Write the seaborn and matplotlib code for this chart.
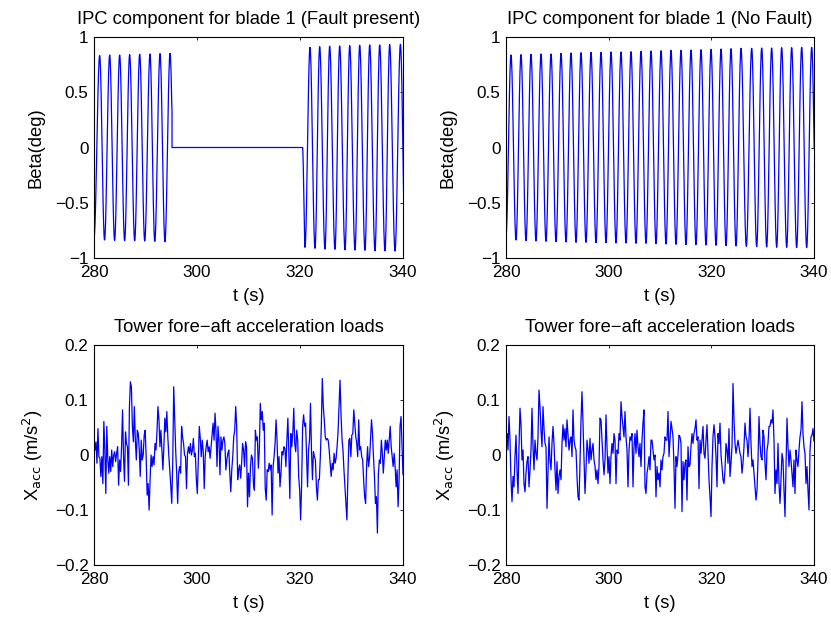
import numpy as np
import matplotlib
matplotlib.use("Agg")
import matplotlib.pyplot as plt
import seaborn as sns

# ---------------------------------------------------------------------------
# IPC pitch component, blade 1 -- turning points (time in s, beta in deg)
# ---------------------------------------------------------------------------
# Fault case: oscillation before the fault
ipc_fault_pre_t = [280.00, 281.10, 282.05, 283.04, 284.00, 284.98, 285.95, 286.92,
                   287.90, 288.87, 289.85, 290.87, 291.80, 292.82, 293.78, 294.76,
                   295.74]
ipc_fault_pre_v = [-0.820, 0.831, -0.837, 0.837, -0.840, 0.837, -0.843, 0.840,
                   -0.843, 0.843, -0.846, 0.846, -0.849, 0.849, -0.852, 0.852,
                   -0.852]
# Fault window: IPC output held at zero
fault_start = 295.15
fault_end = 320.50
# Fault case: oscillation after the fault clears
ipc_fault_post_t = [320.50, 320.97, 321.94, 322.91, 323.82, 324.85, 325.76, 326.79,
                    327.70, 328.74, 329.65, 330.68, 331.59, 332.62, 333.53, 334.56,
                    335.47, 336.50, 337.41, 338.45, 339.50, 340.45]
ipc_fault_post_v = [0.000, -0.903, 0.906, -0.912, 0.912, -0.919, 0.916, -0.921,
                    0.919, -0.925, 0.922, -0.928, 0.925, -0.930, 0.928, -0.934,
                    0.928, -0.934, 0.931, -0.937, 0.934, -0.937]

# No-fault case: peaks and troughs
ipc_ok_peak_t = [280.97, 282.92, 284.87, 286.82, 288.77, 290.72, 292.66, 294.61,
                 296.56, 298.51, 300.46, 302.40, 304.35, 306.30, 308.25, 310.20,
                 312.14, 314.09, 316.04, 317.99, 319.94, 321.89, 323.83, 325.78,
                 327.86, 329.81, 331.75, 333.70, 335.65, 337.60, 339.55]
ipc_ok_peak_v = [0.837, 0.840, 0.843, 0.846, 0.846, 0.852, 0.855, 0.858,
                 0.861, 0.861, 0.864, 0.864, 0.867, 0.870, 0.873, 0.876,
                 0.879, 0.879, 0.882, 0.885, 0.888, 0.891, 0.894, 0.897,
                 0.897, 0.900, 0.900, 0.903, 0.903, 0.906, 0.906]
ipc_ok_trough_t = [280.00, 281.95, 283.90, 285.84, 287.79, 289.74, 291.69, 293.64,
                   295.58, 297.53, 299.48, 301.43, 303.38, 305.32, 307.27, 309.22,
                   311.17, 313.12, 315.06, 317.01, 318.96, 320.91, 322.86, 324.81,
                   326.82, 328.83, 330.78, 332.73, 334.68, 336.62, 338.57, 340.52]
ipc_ok_trough_v = [-0.800, -0.837, -0.843, -0.846, -0.849, -0.852, -0.855, -0.858,
                   -0.858, -0.861, -0.861, -0.864, -0.864, -0.867, -0.867, -0.870,
                   -0.873, -0.876, -0.879, -0.879, -0.882, -0.885, -0.888, -0.891,
                   -0.894, -0.897, -0.900, -0.903, -0.903, -0.906, -0.906, -0.909]

# ---------------------------------------------------------------------------
# Tower fore-aft acceleration (m/s^2), sampled uniformly over 280-340 s
# ---------------------------------------------------------------------------
acc_fault = [
    0.021, 0.009, 0.024, -0.015, 0.048, -0.003, -0.006, -0.039, -0.003, -0.052,
    0.061, 0.009, -0.070, 0.052, -0.006, -0.033, -0.003, -0.030, 0.009, -0.021,
    0.000, 0.006, -0.012, 0.003, 0.015, -0.055, -0.009, -0.030, 0.015, 0.082,
    -0.003, -0.048, 0.042, 0.021, 0.015, -0.055, 0.088, 0.133, 0.124, 0.052,
    0.024, 0.088, 0.027, -0.009, 0.045, 0.039, 0.009, -0.039, 0.027, -0.009,
    0.000, 0.036, 0.045, -0.003, -0.073, -0.052, -0.100, -0.045, 0.000, -0.021,
    -0.003, -0.018, 0.021, 0.009, 0.042, 0.088, 0.064, 0.015, 0.045, 0.009,
    -0.027, 0.015, 0.067, 0.042, 0.079, 0.033, 0.000, -0.027, -0.055, -0.088,
    -0.015, 0.124, 0.064, 0.009, -0.033, -0.088, -0.033, -0.021, -0.033, 0.052,
    0.033, 0.021, 0.000, -0.003, -0.061, 0.003, 0.015, 0.003, 0.021, 0.000,
    0.009, 0.030, -0.003, 0.003, -0.045, -0.070, -0.006, 0.052, 0.030, -0.003,
    0.027, 0.006, -0.061, -0.003, 0.015, 0.027, 0.006, 0.015, -0.006, 0.015,
    0.036, 0.058, 0.027, 0.076, 0.042, -0.021, 0.052, 0.027, -0.036, 0.033,
    0.009, 0.027, 0.033, 0.021, -0.027, -0.009, 0.003, 0.009, -0.033, -0.067,
    -0.027, -0.003, 0.033, 0.045, 0.088, 0.052, -0.045, -0.027, -0.018, -0.042,
    -0.015, 0.021, 0.009, -0.021, 0.024, 0.015, -0.094, -0.033, -0.076, -0.021,
    0.000, -0.006,
    -0.052, -0.064, 0.045, 0.027, 0.033, -0.024, 0.009, 0.094, 0.064, 0.079,
    0.045, 0.058, -0.061, -0.082, -0.027, -0.030, -0.015, -0.027, -0.018, -0.109,
    -0.021, -0.003, 0.021, 0.064, 0.027, -0.033, -0.003, -0.058, -0.033, 0.006,
    0.000, 0.015, 0.012, -0.021, 0.027, 0.067, 0.003, -0.079, 0.039, 0.015,
    0.039, 0.085, 0.021, 0.006, 0.045, 0.027, -0.039, -0.064, -0.118, -0.052,
    0.052, 0.073, 0.052, 0.058, 0.003, -0.058, 0.009, 0.027, 0.094, 0.009,
    -0.045, 0.006, -0.003, -0.009, -0.058, -0.082, -0.045, -0.045, -0.003, 0.052,
    0.139, 0.088, 0.064, 0.033, 0.027, 0.030, 0.027, 0.009, -0.015, -0.039,
    -0.015, -0.027, 0.003, -0.015, -0.006, 0.015, 0.042, 0.088, 0.136, 0.076,
    0.030, 0.009, -0.027, -0.058, -0.088, -0.118, -0.039, 0.027, 0.030, -0.003,
    0.036, 0.039, 0.082, 0.058, 0.033, 0.021, -0.003, 0.064, 0.009, 0.015,
    -0.003, -0.009, -0.045, -0.076, -0.088, -0.021, 0.015, -0.021, -0.006, 0.027,
    0.064, 0.039, -0.003, -0.039, -0.088, -0.076, -0.142, -0.033, -0.009, -0.015,
    0.027, 0.003, -0.033, -0.003, 0.027, 0.009, 0.027, 0.003, 0.027, 0.052,
    0.015, -0.003, -0.021, 0.003, -0.021, -0.058, -0.027, -0.094, -0.045, 0.052,
    0.070, 0.015, -0.036,
]

acc_ok = [
    0.033, 0.039, 0.009, 0.070, 0.027, -0.045, -0.085, -0.039, -0.058, -0.003,
    0.036, -0.027, -0.070, 0.015, 0.085, 0.055, -0.009, 0.009, -0.052, -0.067,
    -0.033, -0.012, -0.003, -0.058, -0.027, 0.009, 0.085, 0.015, -0.027, 0.027,
    0.003, -0.009, 0.033, 0.118, 0.088, 0.045, 0.015, 0.088, 0.048, 0.021,
    0.015, -0.097, -0.033, 0.033, -0.009, -0.027, 0.021, 0.052, 0.021, -0.027,
    -0.064, -0.012, -0.070, -0.039, -0.027, -0.045, 0.021, 0.055, 0.027, 0.048,
    0.015, 0.064, 0.036, 0.009, 0.027, 0.033, -0.003, 0.082, 0.027, 0.015,
    0.009, -0.039, -0.076, -0.082, -0.015, 0.064, 0.115, 0.058, -0.009, -0.070,
    -0.027, 0.027, 0.009, -0.015, 0.030, -0.009, 0.009, 0.021, -0.009, -0.021,
    -0.045, -0.027, -0.052, -0.021, 0.067, 0.064, 0.027, -0.009, -0.036, -0.009,
    0.073, 0.015, -0.033, -0.003, -0.052, -0.003, 0.021, 0.003, 0.039, 0.027,
    -0.052, 0.009, 0.003, 0.039, 0.027, 0.097, 0.070, 0.052, 0.033, 0.079,
    0.033, 0.009, -0.058, 0.009, 0.033, 0.027, 0.039, -0.058, 0.015, 0.039,
    0.003, 0.045, 0.015, -0.003, 0.021, -0.021, 0.027, 0.058, 0.082, -0.058,
    -0.070, -0.033, -0.021, -0.003, -0.027, 0.027, 0.027, 0.009, -0.009, 0.000,
    -0.076, -0.021, -0.045, -0.033, -0.058, -0.009, -0.027, -0.003, 0.003,
    0.033, 0.027, 0.027, 0.079, -0.003, 0.027, 0.061, 0.048, 0.033, -0.021,
    -0.097, -0.003, -0.021, 0.000, 0.036, 0.033, 0.021, -0.103, -0.012, -0.045,
    -0.015, -0.009, -0.082, 0.015, -0.021, -0.018, 0.015, 0.039, 0.021, 0.039,
    0.048, 0.064, 0.027, 0.033, -0.061, 0.027, 0.003, 0.027, 0.052, 0.003,
    -0.006, 0.027, 0.055, 0.003, -0.045, -0.076, -0.112, -0.021, 0.033, 0.055,
    0.033, -0.003, -0.058, 0.039, 0.021, 0.058, 0.000, -0.021, -0.045, -0.052,
    -0.027, 0.021, 0.009, -0.015, 0.048, -0.039, -0.015, 0.015, 0.130, 0.064,
    0.021, 0.003, 0.015, 0.027, 0.015, 0.003, -0.003, -0.033, -0.015, 0.015,
    0.058, 0.033, 0.027, -0.003, 0.027, 0.085, 0.021, -0.021, -0.009, -0.033,
    -0.058, -0.082, -0.064, -0.009, 0.070, 0.021, -0.003, -0.009, 0.045, 0.033,
    -0.015, -0.045, 0.009, 0.021, 0.052, 0.052, 0.064, 0.058, 0.082, 0.027,
    -0.070, -0.027, -0.052, 0.021, -0.052, -0.088, -0.045, 0.003, -0.009, -0.064,
    -0.112, -0.021, 0.067, 0.015, -0.021, 0.009, -0.009, -0.033, -0.058, -0.009,
    -0.070, 0.009, -0.009, -0.021, 0.009, 0.033, 0.045, 0.097, 0.039, 0.015,
    0.003, -0.052, -0.021, -0.064, -0.100, 0.009, 0.033, 0.036, 0.048, 0.025,
]

t_start, t_end = 280.0, 340.0
x_ticks = [280, 300, 320, 340]
beta_ticks = [-1, -0.5, 0, 0.5, 1]
beta_ticklabels = ["\u22121", "\u22120.5", "0", "0.5", "1"]
acc_ticks = [-0.2, -0.1, 0, 0.1, 0.2]
acc_ticklabels = ["\u22120.2", "\u22120.1", "0", "0.1", "0.2"]

titles = ["IPC component for blade 1 (Fault present)",
          "IPC component for blade 1 (No Fault)",
          "Tower fore\u2212aft acceleration loads",
          "Tower fore\u2212aft acceleration loads"]


def through_turning_points(t_pts, v_pts, n=20):
    """Smooth curve passing through successive extrema (half-cosine per swing)."""
    ts, vs = [], []
    for t0, v0, t1, v1 in zip(t_pts[:-1], v_pts[:-1], t_pts[1:], v_pts[1:]):
        s = np.linspace(0.0, 1.0, n, endpoint=False)
        ts.append(t0 + s * (t1 - t0))
        vs.append(0.5 * (v0 + v1) + 0.5 * (v0 - v1) * np.cos(np.pi * s))
    ts.append([t_pts[-1]])
    vs.append([v_pts[-1]])
    return np.concatenate(ts), np.concatenate(vs)


# Fault signal: oscillation, zero hold during the fault, oscillation again
t_pre, v_pre = through_turning_points(ipc_fault_pre_t, ipc_fault_pre_v)
keep = t_pre <= fault_start
t_post, v_post = through_turning_points(ipc_fault_post_t, ipc_fault_post_v)
t_fault = np.concatenate([t_pre[keep], [fault_start, fault_start, fault_end], t_post])
v_fault = np.concatenate([v_pre[keep], [v_pre[keep][-1] * 0.85, 0.0, 0.0], v_post])

# No-fault signal: interleave peaks and troughs in time order
ok_t = np.array(ipc_ok_trough_t + ipc_ok_peak_t)
ok_v = np.array(ipc_ok_trough_v + ipc_ok_peak_v)
order = np.argsort(ok_t)
t_ok, v_ok = through_turning_points(list(ok_t[order]), list(ok_v[order]))

t_acc_fault = np.linspace(t_start, t_end, len(acc_fault))
t_acc_ok = np.linspace(t_start, t_end, len(acc_ok))

sns.set_theme(style="white")
plt.rcParams["font.family"] = ["Liberation Sans", "DejaVu Sans"]
plt.rcParams["axes.unicode_minus"] = True

fig = plt.figure(figsize=(8.31, 6.17), dpi=100)
W, H = 831.0, 617.0
boxes = [
    (94, 37, 309, 221),
    (506, 37, 308, 221),
    (94, 345, 309, 220),
    (506, 345, 308, 220),
]
axes = [fig.add_axes([x / W, 1 - (y + h) / H, w / W, h / H]) for x, y, w, h in boxes]

line_kw = dict(color="#0000ff", linewidth=0.9, estimator=None, sort=False)
sns.lineplot(x=t_fault, y=v_fault, ax=axes[0], **line_kw)
sns.lineplot(x=t_ok, y=v_ok, ax=axes[1], **line_kw)
sns.lineplot(x=t_acc_fault, y=acc_fault, ax=axes[2], **line_kw)
sns.lineplot(x=t_acc_ok, y=acc_ok, ax=axes[3], **line_kw)

label_size = 13.2
tick_size = 12.3
for i, ax in enumerate(axes):
    ax.set_facecolor("white")
    ax.set_xlim(t_start, t_end)
    ax.set_xticks(x_ticks)
    if i < 2:
        ax.set_ylim(-1, 1)
        ax.set_yticks(beta_ticks)
        ax.set_yticklabels(beta_ticklabels)
        ax.set_ylabel("Beta(deg)", fontsize=label_size, labelpad=7)
    else:
        ax.set_ylim(-0.2, 0.2)
        ax.set_yticks(acc_ticks)
        ax.set_yticklabels(acc_ticklabels)
        ax.set_ylabel(r"X$_{\rm acc}$ (m/s$^{2}$)", fontsize=label_size, labelpad=7)
    ax.set_xlabel("t (s)", fontsize=label_size, labelpad=6)
    ax.set_title(titles[i], fontsize=label_size, pad=9.5, color="black")
    ax.tick_params(direction="in", top=True, right=True, length=2.5, width=0.6,
                   labelsize=tick_size, colors="black")
    ax.tick_params(axis="x", pad=5)
    ax.tick_params(axis="y", pad=4)
    for sp in ax.spines.values():
        sp.set_visible(True)
        sp.set_color("black")
        sp.set_linewidth(0.8)
    ax.xaxis.label.set_color("black")
    ax.yaxis.label.set_color("black")

fig.savefig("out.png", dpi=100, facecolor="white")
